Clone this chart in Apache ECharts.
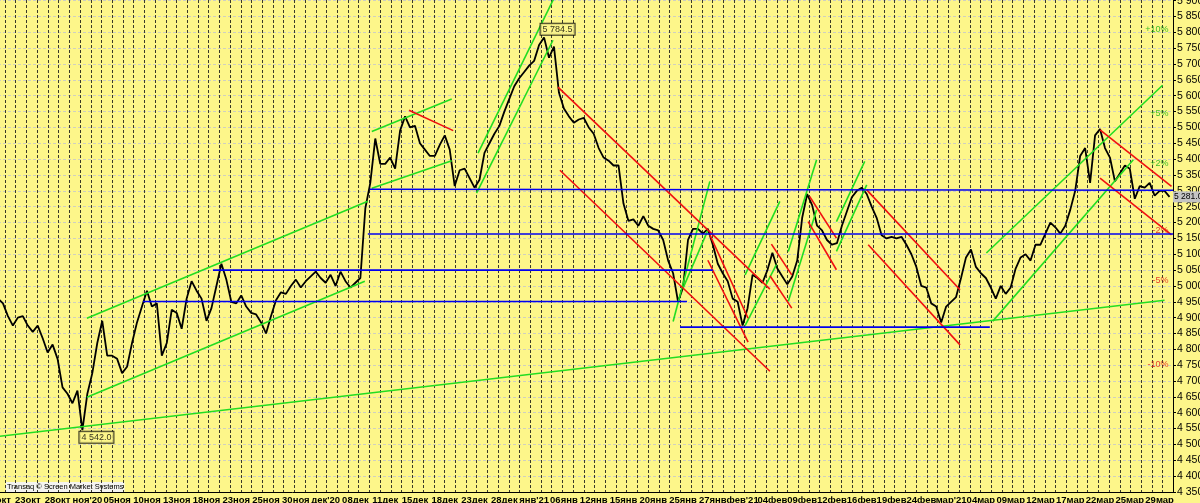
<!DOCTYPE html>
<html>
<head>
<meta charset="utf-8">
<script src="https://cdn.jsdelivr.net/npm/echarts@6/dist/echarts.min.js"></script>
<style>
  html, body { margin: 0; padding: 0; background: #fdf68a; }
  #chart { width: 1200px; height: 503px; }
</style>
</head>
<body>
<div id="chart"></div>
<script>
// подписи оси времени (одна на каждые 6 баров)
const dateLabels = ['20окт', '23окт', '28окт', "ноя'20", '05ноя', '10ноя', '13ноя', '18ноя', '23ноя', '25ноя',
  '30ноя', "дек'20", '08дек', '11дек', '15дек', '18дек', '23дек', '28дек', "янв'21", '06янв',
  '12янв', '15янв', '20янв', '25янв', '27янв', "фев'21", '04фев', '09фев', '12фев', '16фев',
  '19фев', '24фев', "мар'21", '04мар', '09мар', '12мар', '17мар', '22мар', '25мар', '29мар'];

// цена закрытия по барам
const closes = [
  4960, 4945, 4905, 4875, 4900, 4905, 4875, 4855, 4875, 4835,
  4790, 4815, 4770, 4680, 4660, 4630, 4670, 4545, 4660, 4725,
  4820, 4890, 4780, 4780, 4770, 4725, 4745, 4820, 4885, 4935,
  4985, 4935, 4945, 4780, 4820, 4925, 4915, 4865, 4960, 5015,
  4985, 4960, 4890, 4930, 5000, 5070, 5020, 4950, 4945, 4970,
  4935, 4915, 4910, 4885, 4850, 4905, 4955, 4980, 4975, 5000,
  5020, 4995, 5015, 5030, 5045, 5025, 5010, 5035, 5000, 5045,
  5015, 4995, 5010, 5025, 5245, 5325, 5465, 5385, 5385, 5405,
  5370, 5490, 5535, 5500, 5505, 5450, 5430, 5410, 5410, 5445,
  5475, 5430, 5315, 5365, 5370, 5340, 5310, 5335, 5420, 5450,
  5480, 5505, 5550, 5590, 5630, 5655, 5675, 5695, 5710, 5760,
  5784, 5720, 5755, 5610, 5560, 5535, 5515, 5525, 5530, 5500,
  5480, 5435, 5405, 5395, 5380, 5380, 5260, 5205, 5210, 5190,
  5220, 5190, 5180, 5175, 5145, 5080, 5040, 4950, 4995, 5145,
  5180, 5180, 5165, 5180, 5130, 5070, 5040, 5015, 4960, 4950,
  4875, 4930, 5035, 5025, 5010, 5050, 5105, 5055, 5030, 5005,
  5030, 5080, 5215, 5290, 5255, 5190, 5175, 5145, 5130, 5135,
  5190, 5235, 5280, 5300, 5310, 5290, 5250, 5215, 5160, 5150,
  5155, 5150, 5155, 5130, 5100, 5060, 5000, 4995, 4945, 4935,
  4885, 4935, 4950, 4965, 5025, 5090, 5115, 5060, 5040, 5025,
  4995, 4960, 5000, 4975, 4995, 5055, 5090, 5100, 5080, 5130,
  5130, 5165, 5200, 5185, 5165, 5190, 5240, 5300, 5410, 5435,
  5325, 5475, 5495, 5435, 5405, 5330, 5355, 5380, 5370, 5275,
  5315, 5310, 5325, 5285, 5300, 5300, 5281
];

// трендовые линии: [бар1, цена1, бар2, цена2]
const greenLines = [
  [0, 4525, 235.0, 4955],
  [17.9, 4649, 73.9, 5015],
  [17.9, 4898, 74.5, 5267],
  [75.3, 5487, 91.4, 5590],
  [75.3, 5308, 91.4, 5395],
  [96.4, 5293, 111.8, 5775],
  [96.7, 5419, 112.7, 5930],
  [136.0, 4888, 143.4, 5330],
  [138.0, 4993, 143.0, 5176],
  [150.5, 5035, 157.5, 5267],
  [150.5, 4875, 156.8, 5067],
  [159.2, 4951, 164.9, 5240],
  [159.2, 5109, 164.9, 5398],
  [168.9, 5109, 175.0, 5319],
  [168.9, 5203, 174.6, 5393],
  [199.1, 5104, 234.6, 5633],
  [200.4, 4889, 228.7, 5398]
];
const redLines = [
  [82.8, 5554, 91.7, 5490],
  [112.8, 5627, 155.5, 4990],
  [113.2, 5365, 155.5, 4731],
  [143.0, 5081, 151.1, 4823],
  [143.4, 5161, 151.1, 4898],
  [155.8, 5132, 159.9, 5035],
  [155.5, 5032, 159.9, 4930],
  [163.5, 5282, 168.9, 5151],
  [163.2, 5203, 168.9, 5051],
  [175.0, 5303, 193.8, 4988],
  [175.3, 5130, 193.8, 4814],
  [222.0, 5492, 236.4, 5314],
  [222.0, 5340, 236.4, 5161]
];
const blueLines = [
  [74.9, 5305, 236.7, 5302],
  [74.5, 5164, 236.7, 5164],
  [43.3, 5050, 144.0, 5050],
  [29.2, 4951, 138.8, 4951],
  [137.4, 4870, 199.8, 4870]
];

// уровни процентов от последней цены
const pctLevels = [5809, 5545, 5387, 5175, 5017, 4753];
const pctTexts = ['+10%', '+5%', '+2%', '-2%', '-5%', '-10%'];

const lowMark = [16.5, 4542.0];
const highMark = [109.4, 5784.5];
const lastPrice = 5281.0;

const fmtPrice = v => Math.floor(v / 1000) + ' ' + String(Math.round(v % 1000)).padStart(3, '0');

const chart = echarts.init(document.getElementById('chart'));

function segSeries(lines, color) {
  return lines.map(l => ({
    type: 'line',
    data: [[l[0], l[1]], [l[2], l[3]]],
    symbol: 'none',
    silent: true,
    z: 3,
    lineStyle: { color: color, width: 1.6 }
  }));
}

chart.setOption({
  animation: false,
  backgroundColor: '#fdf68a',
  textStyle: { fontFamily: 'Liberation Sans, Arial, sans-serif' },
  grid: [
    { left: -2, right: 27, top: 0, bottom: 11, outerBoundsMode: 'none', containLabel: false },
    { left: 5, right: 27, top: 0, bottom: 11, outerBoundsMode: 'none', containLabel: false }
  ],
  xAxis: [
    {
      type: 'value', gridIndex: 0, min: 0, max: 236.7, interval: 6,
      axisLine: { show: true, onZero: false, lineStyle: { color: '#000', width: 1 } },
      axisTick: { show: false },
      splitLine: { show: false },
      axisLabel: {
        showMinLabel: true, showMaxLabel: true, hideOverlap: false,
        margin: 3, color: '#000', fontSize: 9.5, fontWeight: 'bold',
        formatter: v => {
          const k = Math.round(v / 6);
          return Math.abs(v / 6 - k) < 1e-6 ? (dateLabels[k] || '') : '';
        }
      }
    },
    {
      type: 'value', gridIndex: 1, min: 0, max: 108.96, interval: 1,
      axisLine: { show: false }, axisTick: { show: false }, axisLabel: { show: false },
      splitLine: { show: true, lineStyle: { color: '#3a3a2a', width: 1, type: [3, 2] } }
    }
  ],
  yAxis: [
    {
      type: 'value', gridIndex: 0, position: 'right', min: 4350, max: 5902, interval: 50,
      axisLine: { show: true, onZero: false, lineStyle: { color: '#000', width: 1 } },
      axisTick: { show: true, length: 3, lineStyle: { color: '#000' } },
      splitLine: { show: true, lineStyle: { color: '#cfcfc0', width: 1, type: [3, 2] } },
      axisLabel: {
        margin: 4, color: '#000', fontSize: 10.5,
        formatter: v => (v % 50 === 0 ? fmtPrice(v) : '')
      }
    },
    { type: 'value', gridIndex: 1, min: 0, max: 1, show: false, splitLine: { show: false } }
  ],
  series: [
    {
      type: 'line',
      data: closes.map((v, i) => [i, v]),
      symbol: 'none',
      silent: true,
      z: 2,
      lineStyle: { color: '#000', width: 1.8 },
      markLine: {
        silent: true,
        symbol: 'none',
        lineStyle: { color: 'transparent', width: 0 },
        label: {
          position: 'end', distance: 0, formatter: lastPrice.toFixed(1).replace(/^(\d)(\d{3})/, '$1 $2'),
          backgroundColor: '#c4c4c4', color: '#000', fontSize: 8.5, padding: [1, 0, 1, 1]
        },
        data: [{ yAxis: lastPrice }]
      }
    },
    ...segSeries(greenLines, '#22dd22'),
    ...segSeries(redLines, '#f01010'),
    ...segSeries(blueLines, '#0000f0'),
    {
      type: 'scatter',
      symbolSize: 1,
      itemStyle: { color: 'transparent' },
      silent: true,
      z: 4,
      data: pctLevels.map((v, k) => ({
        value: [236.3, v],
        label: {
          show: true, position: 'left', distance: 2, fontSize: 9,
          color: k < 3 ? '#10b010' : '#e01010', formatter: pctTexts[k]
        }
      }))
    },
    {
      type: 'scatter',
      symbolSize: 1,
      itemStyle: { color: 'transparent' },
      silent: true,
      z: 5,
      data: [
        { value: lowMark, label: { show: true, position: [0, 1], formatter: fmtPrice(lowMark[1]) + '.0' } },
        { value: highMark, label: { show: true, position: [0, -13], formatter: '5 784.5' } }
      ],
      label: {
        color: '#000', fontSize: 9, backgroundColor: '#fdf68a',
        borderColor: '#000', borderWidth: 1, padding: [1, 2]
      }
    }
  ],
  graphic: [
    {
      type: 'text', left: 6, top: 482,
      style: {
        text: 'Transaq © Screen Market Systems', fontSize: 7.5, fill: '#000',
        backgroundColor: '#f4f4f0', padding: [1, 1]
      }
    }
  ]
});
</script>
</body>
</html>
